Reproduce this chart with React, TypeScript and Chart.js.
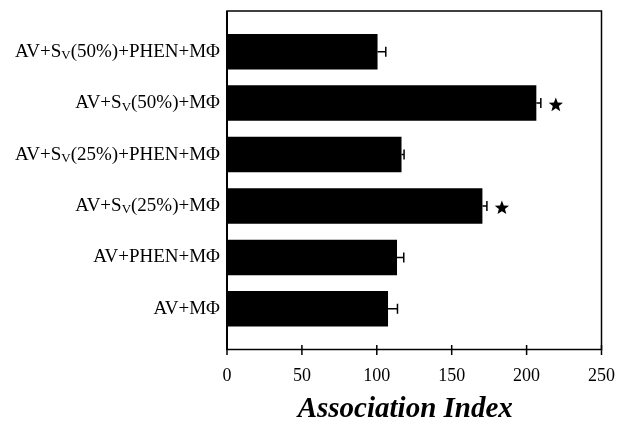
import React, { useEffect, useRef } from "react";
import { Chart, registerables } from "chart.js";
Chart.register(...registerables);

const categories = [
  "AV+S_{V}(50%)+PHEN+MΦ",
  "AV+S_{V}(50%)+MΦ",
  "AV+S_{V}(25%)+PHEN+MΦ",
  "AV+S_{V}(25%)+MΦ",
  "AV+PHEN+MΦ",
  "AV+MΦ",
];
const means = [100.5, 206.5, 116.5, 170.5, 113.5, 107.5];
const errors = [5.5, 3, 1.7, 3, 4.5, 6.3];
const significant = [false, true, false, true, false, false];
const xTicks = [0, 50, 100, 150, 200, 250];
const axisTitle = "Association Index";

const FONT = "'Liberation Serif', 'DejaVu Serif', serif";

function drawStar(ctx: CanvasRenderingContext2D, cx: number, cy: number, ro: number, ri: number) {
  ctx.beginPath();
  for (let k = 0; k < 10; k++) {
    const r = k % 2 === 0 ? ro : ri;
    const a = -Math.PI / 2 + (k * Math.PI) / 5;
    const px = cx + r * Math.cos(a);
    const py = cy + r * Math.sin(a);
    if (k === 0) ctx.moveTo(px, py);
    else ctx.lineTo(px, py);
  }
  ctx.closePath();
  ctx.fill();
}

const overlay = {
  id: "overlay",
  afterDatasetsDraw(chart: any) {
    const { ctx, chartArea } = chart;
    const xs = chart.scales.x;
    const ys = chart.scales.y;
    ctx.save();
    ctx.strokeStyle = "#000";
    ctx.fillStyle = "#000";
    ctx.lineWidth = 1.5;
    means.forEach((m, i) => {
      const y = ys.getPixelForValue(i + 1);
      const x0 = xs.getPixelForValue(m);
      const x1 = xs.getPixelForValue(m + errors[i]);
      ctx.beginPath();
      ctx.moveTo(x0, y);
      ctx.lineTo(x1, y);
      ctx.moveTo(x1, y - 5);
      ctx.lineTo(x1, y + 5);
      ctx.stroke();
      if (significant[i]) {
        drawStar(ctx, x1 + 15, y + 2, 7.5, 3.2);
      }
    });
    ctx.lineWidth = 1.5;
    ctx.strokeRect(chartArea.left, chartArea.top, chartArea.right - chartArea.left, chartArea.bottom - chartArea.top);
    ctx.lineWidth = 2;
    ctx.beginPath();
    ctx.moveTo(chartArea.left, chartArea.top);
    ctx.lineTo(chartArea.left, chartArea.bottom);
    ctx.stroke();
    ctx.lineWidth = 1.5;
    xTicks.forEach((t) => {
      const x = xs.getPixelForValue(t);
      ctx.beginPath();
      ctx.moveTo(x, chartArea.bottom - 4.5);
      ctx.lineTo(x, chartArea.bottom + 5.5);
      ctx.stroke();
    });
    categories.forEach((lab, i) => {
      const y = ys.getPixelForValue(i + 1);
      const parts = lab.split(/_\{([^}]*)\}/);
      const fonts = parts.map((_, k) => (k % 2 === 0 ? `19px ${FONT}` : `13px ${FONT}`));
      let total = 0;
      const widths = parts.map((p, k) => {
        ctx.font = fonts[k];
        const w = ctx.measureText(p).width;
        total += w;
        return w;
      });
      let x = chartArea.left - 7 - total;
      ctx.textAlign = "left";
      ctx.textBaseline = "middle";
      parts.forEach((p, k) => {
        ctx.font = fonts[k];
        ctx.fillText(p, x, k % 2 === 0 ? y : y + 4);
        x += widths[k];
      });
    });
    ctx.font = `italic bold 29px ${FONT}`;
    ctx.textAlign = "center";
    ctx.textBaseline = "middle";
    ctx.fillText(axisTitle, chartArea.left + (chartArea.right - chartArea.left) * 0.476, 410);
    ctx.restore();
  },
};

export default function App() {
  const ref = useRef<HTMLCanvasElement | null>(null);
  useEffect(() => {
    if (!ref.current) return;
    const chart = new Chart(ref.current, {
      type: "bar",
      data: {
        datasets: [
          {
            data: means.map((m, i) => ({ x: m, y: i + 1 })),
            backgroundColor: "#000",
            borderWidth: 0,
            barPercentage: 0.69,
            categoryPercentage: 1,
          },
        ],
      },
      options: {
        indexAxis: "y",
        animation: false,
        responsive: false,
        layout: { padding: { left: 227, right: 16.5, top: 11, bottom: 0 } },
        plugins: { legend: { display: false }, tooltip: { enabled: false }, title: { display: false } },
        scales: {
          x: {
            type: "linear",
            min: 0,
            max: 250,
            afterBuildTicks: (s: any) => {
              s.ticks = xTicks.map((v) => ({ value: v }));
            },
            afterFit: (s: any) => {
              s.height = 75.5;
              s.paddingLeft = 0;
              s.paddingRight = 0;
            },
            grid: { display: false, drawTicks: false },
            border: { display: false },
            ticks: { color: "#000", font: { family: FONT, size: 18 }, padding: 16 },
          },
          y: {
            type: "linear",
            reverse: true,
            offset: false,
            grace: 0,
            min: 0.21,
            max: 6.79,
            display: false,
            afterBuildTicks: (s: any) => {
              s.ticks = categories.map((_, i) => ({ value: i + 1 }));
            },
          },
        },
      },
      plugins: [overlay],
    } as any);
    return () => chart.destroy();
  }, []);
  return (
    <div style={{ position: "absolute", left: 0, top: 0, width: 618, height: 425, background: "#fff" }}>
      <canvas ref={ref} width={618} height={425} />
    </div>
  );
}
